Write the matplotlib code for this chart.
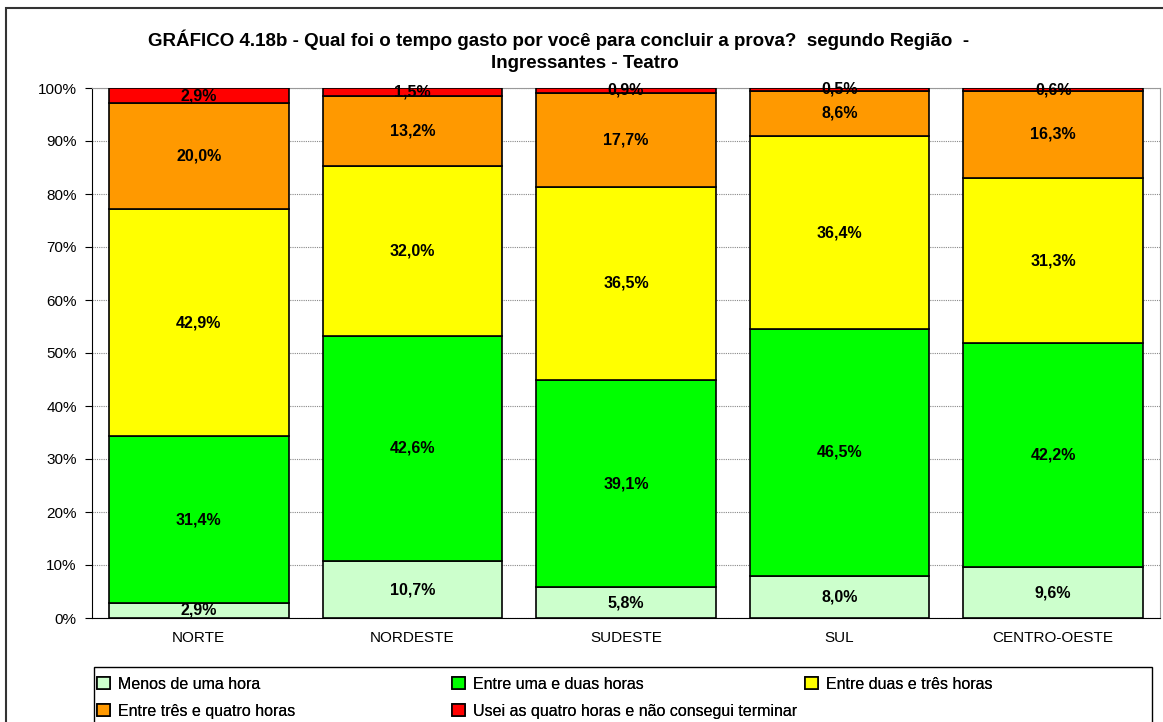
import numpy as np
import matplotlib
import matplotlib.pyplot as plt
import matplotlib.ticker as mtick
from matplotlib.patches import Rectangle

matplotlib.use('agg')
plt.rcParams['font.family'] = ['Liberation Sans', 'DejaVu Sans']

regions = ['NORTE', 'NORDESTE', 'SUDESTE', 'SUL', 'CENTRO-OESTE']
series = ['Menos de uma hora', 'Entre uma e duas horas', 'Entre duas e três horas',
          'Entre três e quatro horas', 'Usei as quatro horas e não consegui terminar']
menos_uma = [2.9, 10.7, 5.8, 8.0, 9.6]
uma_duas = [31.4, 42.6, 39.1, 46.5, 42.2]
duas_tres = [42.9, 32.0, 36.5, 36.4, 31.3]
tres_quatro = [20.0, 13.2, 17.7, 8.6, 16.3]
nao_terminou = [2.9, 1.5, 0.9, 0.5, 0.6]
colors = ['#CCFFCC', '#00FF00', '#FFFF00', '#FF9900', '#FF0000']

W, H = 1163, 722
fig = plt.figure(figsize=(W / 100, H / 100), dpi=100)
ax = fig.add_axes([92 / W, 1 - 618 / H, (1160 - 92) / W, (618 - 88) / H])

# outer chart frame (runs off the right and bottom edges)
fig.patches.append(Rectangle((6 / W, -0.1), 1.2, 1 - 8 / H + 0.1, transform=fig.transFigure,
                             fill=False, edgecolor='#333333', linewidth=1.5))

data = np.array([menos_uma, uma_duas, duas_tres, tres_quatro, nao_terminou])
shares = data / data.sum(axis=0) * 100
x = np.arange(len(regions))
bottom = np.zeros(len(regions))
handles = []
for i, (name, color) in enumerate(zip(series, colors)):
    bars = ax.bar(x, shares[i], 0.84, bottom=bottom, color=color, edgecolor='black',
                  linewidth=1.2, label=name, zorder=3)
    handles.append(bars)
    for j in range(len(regions)):
        ax.text(x[j], bottom[j] + shares[i][j] / 2, f'{data[i][j]:.1f}%'.replace('.', ','),
                ha='center', va='center', fontsize=11.5, fontweight='bold', zorder=4)
    bottom += shares[i]

ax.set_xlim(-0.5, 4.5)
ax.set_ylim(0, 100)
ax.set_yticks(np.arange(0, 101, 10))
ax.yaxis.set_major_formatter(mtick.PercentFormatter(100, decimals=0))
ax.set_xticks(x, regions)
ax.tick_params(axis='y', length=5, labelsize=11, pad=6)
ax.tick_params(axis='x', length=0, labelsize=11, pad=9)
ax.grid(axis='y', color='#888888', linestyle=(0, (1, 1)), linewidth=0.8, zorder=0)
for side in ['top', 'right']:
    ax.spines[side].set_color('#999999')
for side in ['left', 'bottom']:
    ax.spines[side].set_color('black')

fig.text(559 / W, 1 - 40 / H, 'GRÁFICO 4.18b - Qual foi o tempo gasto por você para concluir a prova?  segundo Região  -',
         ha='center', va='center', fontsize=13.5, fontweight='bold')
fig.text(585 / W, 1 - 63 / H, 'Ingressantes - Teatro', ha='center', va='center',
         fontsize=13.5, fontweight='bold')

# legend: a frame plus one frameless legend per column (row-major like the reference)
fig.patches.append(Rectangle((94 / W, -0.1), (1152 - 94) / W, 1 - 667 / H + 0.1,
                             transform=fig.transFigure, fill=False, edgecolor='black',
                             linewidth=1.0))
columns = [([0, 3], 92), ([1, 4], 447), ([2], 800)]
for idx, x0 in columns:
    leg = fig.legend([handles[k] for k in idx], [series[k] for k in idx],
                     loc='upper left', bbox_to_anchor=(x0 / W, 1 - 672 / H),
                     frameon=False, fontsize=11.5, handlelength=0.8, handleheight=0.8,
                     handletextpad=0.5, borderaxespad=0, borderpad=0.3, labelspacing=0.75)
    fig.add_artist(leg)

fig.savefig('out.png', dpi=100)
